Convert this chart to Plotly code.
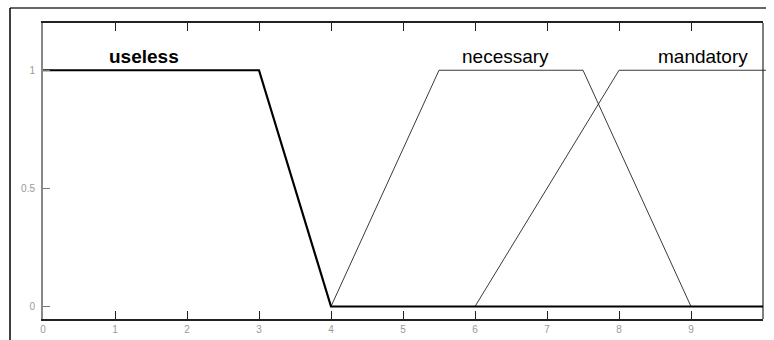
import plotly.graph_objects as go

# Membership functions (x = score, y = degree of membership)
useless_x = [0, 3, 4, 10]
useless_y = [1, 1, 0, 0]
necessary_x = [4, 5.5, 7.5, 9]
necessary_y = [0, 1, 1, 0]
mandatory_x = [6, 8, 10]
mandatory_y = [0, 1, 1]

labels = ["useless", "necessary", "mandatory"]
label_x = [1.4, 6.42, 9.17]
label_y = [1.06, 1.06, 1.06]

x_ticks = list(range(0, 11))
y_ticks = [0, 0.5, 1]

W, H = 766, 340
L, R, T, B = 43, 3, 23, 21
PW, PH = W - L - R, H - T - B


def px(xp):
    return (xp - L) / PW


def py(yp):
    return (H - B - yp) / PH


fig = go.Figure()
fig.add_trace(go.Scatter(x=necessary_x, y=necessary_y, mode="lines",
                         line=dict(color="#3a3a3a", width=1)))
fig.add_trace(go.Scatter(x=mandatory_x, y=mandatory_y, mode="lines",
                         line=dict(color="#3a3a3a", width=1)))
fig.add_trace(go.Scatter(x=useless_x, y=useless_y, mode="lines",
                         line=dict(color="#000000", width=2.2)))

for i, (t, x, y) in enumerate(zip(labels, label_x, label_y)):
    fig.add_annotation(x=x, y=y, text=f"<b>{t}</b>" if i == 0 else t,
                       showarrow=False, xanchor="center", yanchor="middle",
                       font=dict(family="Liberation Sans, Arial", size=19, color="#000"))

# outer frame (top and left edges)
fig.add_shape(type="line", xref="paper", yref="paper", x0=px(10), x1=px(W),
              y0=py(8), y1=py(8), line=dict(color="#333", width=1.5))
fig.add_shape(type="line", xref="paper", yref="paper", x0=px(10), x1=px(10),
              y0=py(8), y1=py(H), line=dict(color="#000", width=1.5))
# right border of the plot box
fig.add_shape(type="line", xref="paper", yref="paper", x0=1, x1=1,
              y0=0, y1=1, line=dict(color="#000", width=1))
# plateau of "mandatory" running past the box edge
fig.add_shape(type="line", xref="paper", yref="y", x0=1, x1=px(W),
              y0=mandatory_y[-1], y1=mandatory_y[-1], line=dict(color="#3a3a3a", width=1))

fig.update_layout(
    width=W, height=H,
    margin=dict(l=L, r=R, t=T, b=B),
    paper_bgcolor="white", plot_bgcolor="white",
    showlegend=False,
    xaxis=dict(range=[0, 10], tickvals=x_ticks, ticks="inside", ticklen=8,
               tickcolor="#222", tickwidth=1, showline=True, linecolor="#222",
               linewidth=1.5, mirror="ticks", showgrid=False, zeroline=False,
               tickfont=dict(family="Liberation Sans, Arial", size=10, color="#999")),
    yaxis=dict(range=[-0.053, 1.2], tickvals=y_ticks, ticktext=["0", "0.5", "1"],
               ticks="inside", ticklen=7, tickcolor="#777", tickwidth=1,
               showline=True, linecolor="#888", linewidth=2, mirror=False,
               showgrid=False, zeroline=False, ticklabelstandoff=4,
               tickfont=dict(family="Liberation Sans, Arial", size=10, color="#999")),
)

fig.write_html("out.html")
